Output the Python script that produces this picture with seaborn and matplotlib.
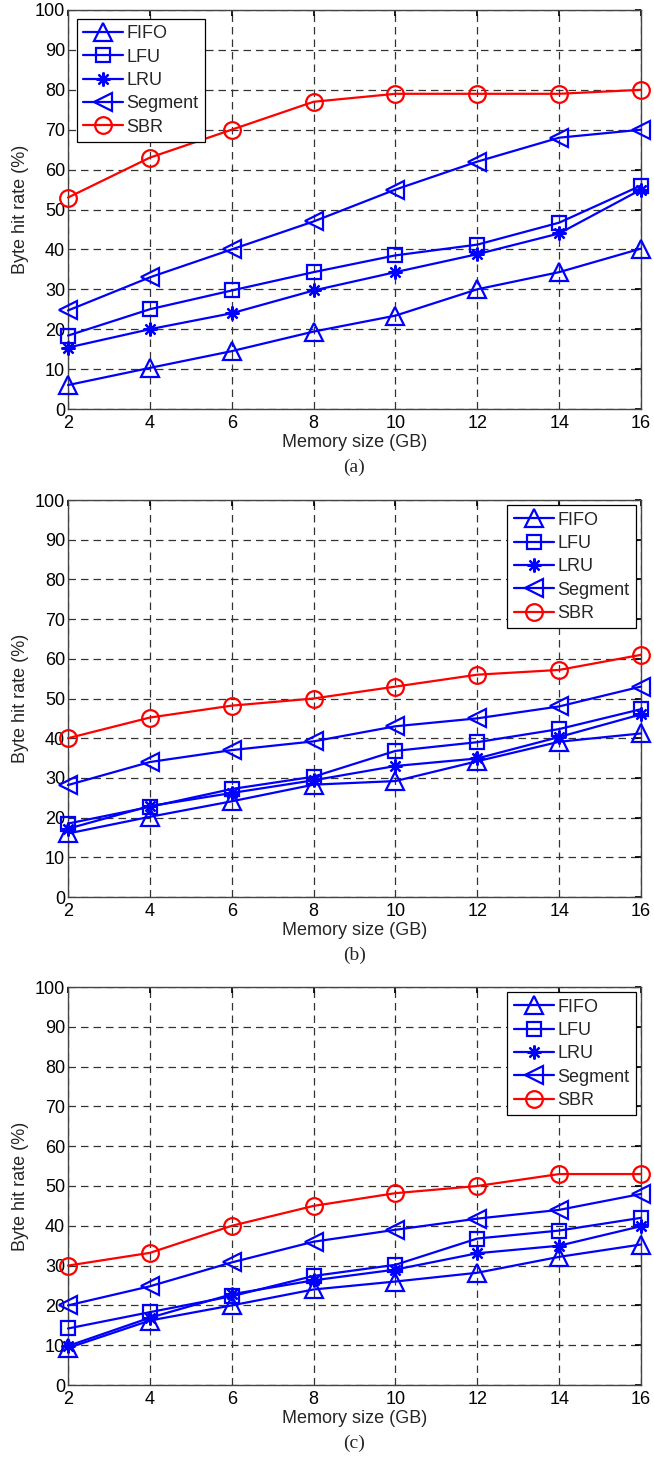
import matplotlib
matplotlib.use("Agg")
import matplotlib.pyplot as plt
import seaborn as sns
import pandas as pd

sns.set_theme(style="white")
plt.rcParams["font.family"] = ["Liberation Sans", "DejaVu Sans"]

memory_gb = [2, 4, 6, 8, 10, 12, 14, 16]
methods = ["FIFO", "LFU", "LRU", "Segment", "SBR"]

# Byte hit rate (%) per method, panel (a)
fifo_a = [6, 10.3, 14.5, 19.4, 23.4, 30, 34.3, 40.2]
lfu_a = [18.4, 25, 29.7, 34.3, 38.5, 41.2, 46.7, 56]
lru_a = [15.4, 20, 24, 29.7, 34.3, 38.8, 44, 55]
segment_a = [24.7, 33, 40, 47, 55, 62, 68, 70]
sbr_a = [53, 63, 70, 77, 79, 79, 79, 80]

# panel (b)
fifo_b = [16, 20.2, 24.1, 28.3, 29.2, 34.2, 39.1, 41.2]
lfu_b = [18.5, 22.7, 27.2, 30.3, 36.8, 39, 42.3, 47.3]
lru_b = [17.2, 22.9, 26.2, 29.4, 33, 34.9, 40.3, 46]
segment_b = [28.2, 34, 37, 39.2, 43, 45, 48, 53]
sbr_b = [40, 45.2, 48.2, 50, 53, 56, 57.2, 61]

# panel (c)
fifo_c = [9.3, 16.2, 20, 24, 26, 28.2, 32.2, 35.3]
lfu_c = [14.2, 18.3, 22.3, 27.4, 30.2, 36.8, 38.8, 42]
lru_c = [9.8, 16.9, 22.8, 26.3, 29, 33.1, 35, 39.9]
segment_c = [20, 24.8, 30.8, 36, 39, 41.8, 44, 48]
sbr_c = [30, 33.2, 40, 45, 48.2, 50, 53, 53]

y_ticks = list(range(0, 101, 10))
panel_tags = ["(a)", "(b)", "(c)"]

panels = [
    [fifo_a, lfu_a, lru_a, segment_a, sbr_a],
    [fifo_b, lfu_b, lru_b, segment_b, sbr_b],
    [fifo_c, lfu_c, lru_c, segment_c, sbr_c],
]

markers = {"FIFO": "^", "LFU": "s", "LRU": (8, 2, 0), "Segment": "<", "SBR": "o"}
colors = {"FIFO": "#0000ff", "LFU": "#0000ff", "LRU": "#0000ff",
          "Segment": "#0000ff", "SBR": "#ff0000"}
msize = {"FIFO": 13, "LFU": 10, "LRU": 10, "Segment": 13, "SBR": 12}

W, H = 654, 1458
fig = plt.figure(figsize=(W / 100, H / 100), dpi=100)

# axes boxes in pixels: (top, bottom)
boxes = [(10, 409), (500, 897), (987, 1385)]
left_px, right_px = 68, 641
legend_locs = ["upper left", "upper right", "upper right"]
legend_pads = [0.5, 0.3, 0.3]
FS = 13

for idx, (series, (top, bot)) in enumerate(zip(panels, boxes)):
    ax = fig.add_axes([left_px / W, 1 - bot / H, (right_px - left_px) / W, (bot - top) / H])
    for name, vals in zip(methods, series):
        df = pd.DataFrame({"Memory size (GB)": memory_gb, "Byte hit rate (%)": vals})
        sns.lineplot(data=df, x="Memory size (GB)", y="Byte hit rate (%)", ax=ax,
                     color=colors[name], marker=markers[name], markersize=msize[name],
                     markerfacecolor="none", markeredgecolor=colors[name],
                     markeredgewidth=1.6, linewidth=1.6, label=name, legend=False,
                     clip_on=False, zorder=3)
    ax.set_xlim(2, 16)
    ax.set_ylim(0, 100)
    ax.set_xticks(memory_gb)
    ax.set_yticks(y_ticks)
    ax.tick_params(labelsize=FS, direction="in", length=4, top=True, right=True,
                   colors="black", pad=4)
    ax.tick_params(axis="y", pad=2)
    ax.grid(True, color="#333333", linestyle=(0, (6, 4)), linewidth=0.9)
    for sp in ax.spines.values():
        sp.set_color("#444444")
        sp.set_linewidth(1.0)
    ax.set_xlabel("Memory size (GB)", fontsize=FS, labelpad=2)
    ax.set_ylabel("Byte hit rate (%)", fontsize=FS, labelpad=4)
    leg = ax.legend(loc=legend_locs[idx], fontsize=FS, frameon=True, fancybox=False,
                    edgecolor="black", framealpha=1, handlelength=2.2,
                    handletextpad=0.2, labelspacing=0.35, borderpad=0.35,
                    borderaxespad=legend_pads[idx])
    leg.get_frame().set_linewidth(0.9)
    fig.text(((left_px + right_px) / 2) / W, 1 - (bot + 58) / H, panel_tags[idx],
             ha="center", va="center", fontsize=14, family="Liberation Serif")

fig.savefig("out.png", dpi=100, facecolor="white")
